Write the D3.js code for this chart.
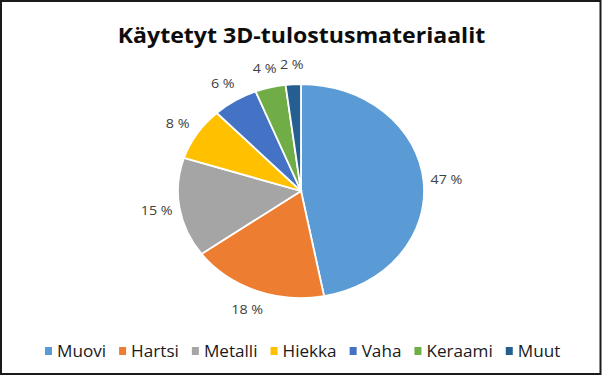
<!DOCTYPE html>
<html>
<head>
<meta charset="utf-8">
<script src="https://cdn.jsdelivr.net/npm/d3@7"></script>
<style>
  body { margin: 0; background: #fff; }
  svg { display: block; }
</style>
</head>
<body>
<div id="plot"></div>
<script>
// chart data
const categories = ["Muovi", "Hartsi", "Metalli", "Hiekka", "Vaha", "Keraami", "Muut"];
const shares = [47, 18, 15, 8, 6, 4, 2];
const colors = ["#5B9BD5", "#ED7D31", "#A5A5A5", "#FFC000", "#4472C4", "#70AD47", "#255E91"];
const title = "Käytetyt 3D-tulostusmateriaalit";

const W = 603, H = 377;
const cx = 301, cy = 191, R = 107, sx = 1.15;
const tx = 1.1; // the picture is stretched a bit horizontally, text too

const svg = d3.select("#plot").append("svg")
  .attr("width", W).attr("height", H);

// frame
svg.append("rect")
  .attr("x", 1).attr("y", 1)
  .attr("width", W - 3.5).attr("height", H - 4)
  .attr("fill", "#fff")
  .attr("stroke", "#1a1a1a")
  .attr("stroke-width", 2);

// text helper: anchored at (x,y), stretched by tx
function stretchedText(parent, x, y, str) {
  return parent.append("text")
    .attr("transform", `translate(${x},${y}) scale(${tx},1)`)
    .attr("font-family", "Open Sans, sans-serif")
    .text(str);
}

stretchedText(svg, W / 2, 43, title)
  .attr("text-anchor", "middle")
  .attr("font-weight", "bold")
  .attr("font-size", 21)
  .attr("fill", "#0d0d0d");

const pie = d3.pie().sort(null).value(d => d);
const arcs = pie(shares);
const arc = d3.arc().innerRadius(0).outerRadius(R);

const g = svg.append("g")
  .attr("transform", `translate(${cx},${cy}) scale(${sx},1)`);

g.selectAll("path")
  .data(arcs)
  .join("path")
  .attr("d", arc)
  .attr("fill", (d, i) => colors[i])
  .attr("stroke", "#fff")
  .attr("stroke-width", 1.8)
  .attr("vector-effect", "non-scaling-stroke");

const lr = R + 20;
const labels = svg.append("g");
arcs.forEach(d => {
  const a = (d.startAngle + d.endAngle) / 2;
  stretchedText(labels, cx + Math.sin(a) * lr * sx, cy - Math.cos(a) * lr, d.data + " %")
    .attr("dy", "0.35em")
    .attr("text-anchor", "middle")
    .attr("font-size", 13)
    .attr("fill", "#404040");
});

// legend
const legend = svg.append("g");
let lx = 45;
categories.forEach((c, i) => {
  legend.append("rect")
    .attr("x", lx).attr("y", 347)
    .attr("width", 7).attr("height", 8)
    .attr("fill", colors[i]);
  const t = stretchedText(legend, lx + 12, 357, c)
    .attr("font-size", 15.6)
    .attr("fill", "#1a1a1a");
  lx += 12 + t.node().getComputedTextLength() * tx + 13;
});
</script>
</body>
</html>
